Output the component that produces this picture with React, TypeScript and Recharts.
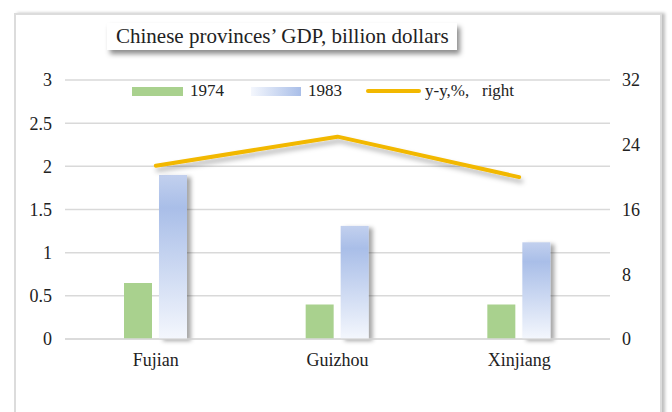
import React from 'react';
import { ComposedChart, Bar, Line, XAxis, YAxis, CartesianGrid, Legend } from 'recharts';

const provinces = ['Fujian', 'Guizhou', 'Xinjiang'];
const gdp1974 = [0.65, 0.4, 0.4];
const gdp1983 = [1.9, 1.31, 1.12];
const growthYY = [21.4, 25, 20];
const leftTicks = [0, 0.5, 1, 1.5, 2, 2.5, 3];
const rightTicks = [0, 8, 16, 24, 32];
const seriesNames = ['1974', '1983', 'y-y,%,\u00a0\u00a0\u00a0right'];
const title = 'Chinese provinces\u2019 GDP, billion dollars';

const data = provinces.map((p, i) => ({
  province: p,
  y1974: gdp1974[i],
  y1983: gdp1983[i],
  yy: growthYY[i],
}));

const FONT = '"Liberation Serif", "Times New Roman", serif';
const GREEN = '#A9D18E';
const GOLD = '#F2B800';
const GRID = '#d9d9d9';
const TEXT = '#222';

const BlueBar = (props: any) => {
  const { x, y, width, height } = props;
  if (!height || height <= 0) return null;
  return <rect x={x} y={y} width={width} height={height} fill="url(#blueGrad)" filter="url(#barShadow)" />;
};

const LegendContent = (props: any) => {
  const { payload = [] } = props;
  return (
    <div style={{ display: 'flex', alignItems: 'center', fontFamily: FONT, fontSize: 17, color: TEXT, whiteSpace: 'pre', lineHeight: '20px' }}>
      {payload.map((e: any, i: number) => {
        let sw: React.ReactNode;
        if (e.dataKey === 'y1974') {
          sw = <div style={{ width: 51, height: 9, background: GREEN, marginRight: 7 }} />;
        } else if (e.dataKey === 'y1983') {
          sw = <div style={{ width: 50, height: 9, background: 'linear-gradient(to right, #f4f7fd, #a9bee8)', marginRight: 7 }} />;
        } else {
          sw = <div style={{ width: 55, height: 4, borderRadius: 2, background: GOLD, marginRight: 4 }} />;
        }
        return (
          <div key={i} style={{ display: 'flex', alignItems: 'center', marginRight: i === 0 ? 27 : 24 }}>
            {sw}
            <span>{e.value}</span>
          </div>
        );
      })}
    </div>
  );
};

export default function App() {
  const tickStyle = { fontFamily: FONT, fontSize: 18, fill: TEXT };
  return (
    <div style={{ position: 'absolute', left: 0, top: 0, width: 672, height: 412, overflow: 'hidden', background: '#fff' }}>
      <div style={{ position: 'absolute', left: 14, top: 13, width: 644, height: 440, border: '2px solid #dcdcdc', boxShadow: '3px 0 3px rgba(0,0,0,0.25)', background: '#fff' }} />
      <div style={{ position: 'absolute', left: 0, top: 0 }}>
        <ComposedChart
          width={672}
          height={412}
          data={data}
          margin={{ top: 80, right: 12, bottom: 43, left: 20 }}
          barSize={28}
          barGap={7}
        >
          <defs>
            <linearGradient id="blueGrad" x1="0" y1="0" x2="0" y2="1">
              <stop offset="0" stopColor="#c2d0ee" />
              <stop offset="0.2" stopColor="#a9bee8" />
              <stop offset="1" stopColor="#f4f7fd" />
            </linearGradient>
            <filter id="barShadow" x="-50%" y="-10%" width="200%" height="130%">
              <feDropShadow dx="4" dy="2" stdDeviation="2" floodColor="#000" floodOpacity="0.35" />
            </filter>
            <filter id="lineShadow" x="-10%" y="-50%" width="120%" height="250%">
              <feDropShadow dx="2" dy="4" stdDeviation="2.5" floodColor="#000" floodOpacity="0.3" />
            </filter>
          </defs>
          <CartesianGrid yAxisId="left" vertical={false} stroke={GRID} strokeWidth={1.5} />
          <XAxis
            dataKey="province"
            height={30}
            tickLine={false}
            tickSize={0}
            tickMargin={14}
            axisLine={{ stroke: GRID, strokeWidth: 1.5 }}
            tick={tickStyle}
          />
          <YAxis
            yAxisId="left"
            orientation="left"
            width={45}
            domain={[0, 3]}
            ticks={leftTicks}
            axisLine={false}
            tickLine={false}
            tickSize={0}
            tickMargin={13}
            tick={tickStyle}
          />
          <YAxis
            yAxisId="right"
            orientation="right"
            width={50}
            domain={[0, 32]}
            ticks={rightTicks}
            axisLine={false}
            tickLine={false}
            tickSize={0}
            tickMargin={12}
            tick={{ ...tickStyle, textAnchor: 'start' }}
          />
          <Legend
            verticalAlign="middle"
            align="center"
            layout="horizontal"
            content={<LegendContent />}
            wrapperStyle={{ position: 'absolute', left: 132, top: 81, width: 'auto' }}
          />
          <Bar yAxisId="left" dataKey="y1974" name={seriesNames[0]} fill={GREEN} isAnimationActive={false} />
          <Bar yAxisId="left" dataKey="y1983" name={seriesNames[1]} fill="url(#blueGrad)" shape={<BlueBar />} isAnimationActive={false} />
          <Line
            yAxisId="right"
            dataKey="yy"
            name={seriesNames[2]}
            type="linear"
            stroke={GOLD}
            strokeWidth={4}
            strokeLinecap="round"
            strokeLinejoin="round"
            dot={false}
            activeDot={false}
            filter="url(#lineShadow)"
            isAnimationActive={false}
          />
        </ComposedChart>
      </div>
      <div
        style={{
          position: 'absolute',
          left: 107,
          top: 23,
          width: 350,
          height: 27,
          background: '#fff',
          boxShadow: '3px 4px 5px rgba(0,0,0,0.45)',
          fontFamily: FONT,
          fontSize: 21,
          lineHeight: '27px',
          color: TEXT,
          paddingLeft: 9,
          boxSizing: 'border-box',
          whiteSpace: 'nowrap',
        }}
      >
        {title}
      </div>
    </div>
  );
}
